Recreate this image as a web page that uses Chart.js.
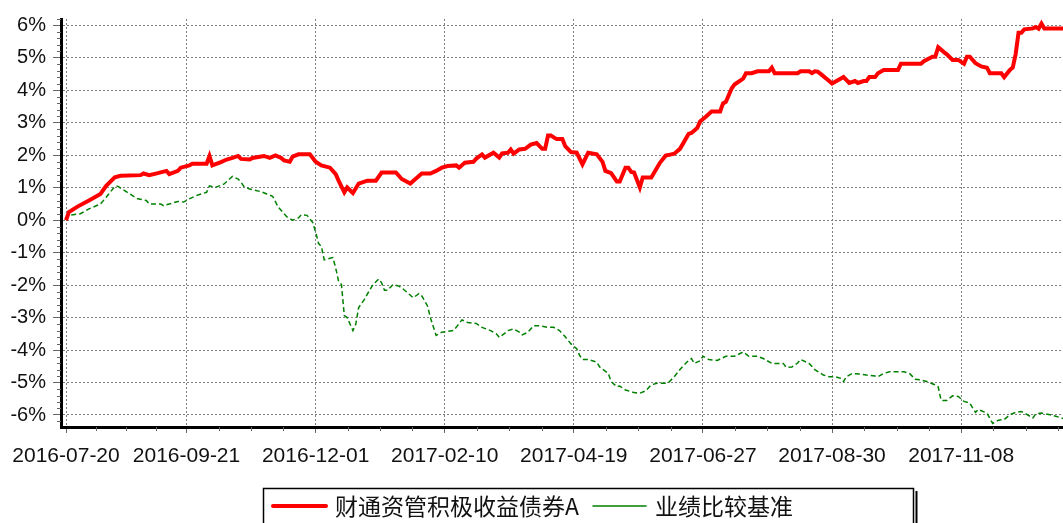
<!DOCTYPE html>
<html>
<head>
<meta charset="utf-8">
<script src="https://cdn.jsdelivr.net/npm/chart.js@4/dist/chart.umd.min.js"></script>
<style>
  html, body { margin: 0; padding: 0; background: #fff; }
  #wrap { width: 1063px; height: 523px; position: relative; }
</style>
</head>
<body>
<div id="wrap"><canvas id="chart"></canvas></div>
<script>
// trading-day index of each date label on the x axis
const tickDays = [0, 42, 87, 132, 177, 222, 267, 312];
const tickLabels = ['2016-07-20', '2016-09-21', '2016-12-01', '2017-02-10', '2017-04-19', '2017-06-27', '2017-08-30', '2017-11-08'];
const seriesNames = ['财通资管积极收益债券A', '业绩比较基准'];

// fund cumulative return (%)
const fundDays = [0, 1, 4, 8, 12, 14, 17, 19, 26, 27, 29, 32, 35, 36, 39, 40, 43, 44, 49, 50, 51, 54, 56, 58, 60, 61, 64, 65, 69, 71, 73, 75, 76, 78, 79, 81, 85, 87, 89, 92, 94, 95, 97, 98, 100, 102, 105, 108, 110, 115, 117, 120, 124, 127, 129, 131, 133, 136, 137, 139, 142, 143, 145, 146, 149, 151, 152, 154, 155, 156, 158, 160, 162, 164, 166, 167, 168, 169, 171, 173, 174, 176, 178, 180, 182, 185, 187, 188, 190, 192, 193, 195, 196, 197, 198, 200, 201, 204, 206, 207, 209, 211, 212, 214, 217, 218, 220, 221, 223, 225, 228, 229, 230, 232, 233, 236, 237, 239, 241, 245, 246, 247, 255, 256, 259, 260, 261, 262, 263, 266, 267, 271, 273, 275, 276, 278, 279, 280, 282, 283, 285, 290, 291, 298, 299, 302, 303, 304, 306, 307, 309, 311, 313, 314, 315, 317, 319, 321, 322, 326, 327, 329, 330, 331, 332, 333, 334, 337, 338, 339, 340, 341, 348];
const fundVals = [0, 0.25, 0.42, 0.61, 0.81, 1.06, 1.32, 1.37, 1.39, 1.44, 1.39, 1.45, 1.52, 1.42, 1.52, 1.62, 1.69, 1.74, 1.74, 1.98, 1.69, 1.79, 1.87, 1.92, 1.98, 1.89, 1.87, 1.92, 1.98, 1.92, 2.00, 1.92, 1.84, 1.80, 1.96, 2.03, 2.03, 1.80, 1.69, 1.62, 1.42, 1.22, 0.86, 1.01, 0.84, 1.13, 1.22, 1.22, 1.47, 1.47, 1.27, 1.13, 1.44, 1.44, 1.52, 1.62, 1.67, 1.69, 1.62, 1.77, 1.80, 1.90, 2.03, 1.93, 2.08, 1.93, 2.06, 2.08, 2.18, 2.05, 2.18, 2.20, 2.33, 2.38, 2.20, 2.20, 2.61, 2.61, 2.50, 2.50, 2.28, 2.10, 2.08, 1.72, 2.08, 2.03, 1.80, 1.52, 1.45, 1.19, 1.19, 1.62, 1.62, 1.49, 1.47, 1.01, 1.32, 1.32, 1.62, 1.77, 1.99, 2.03, 2.05, 2.20, 2.66, 2.69, 2.84, 3.04, 3.19, 3.35, 3.35, 3.60, 3.65, 4.06, 4.18, 4.36, 4.53, 4.53, 4.59, 4.59, 4.70, 4.53, 4.53, 4.59, 4.59, 4.53, 4.59, 4.58, 4.51, 4.29, 4.21, 4.41, 4.23, 4.29, 4.23, 4.29, 4.29, 4.41, 4.41, 4.53, 4.63, 4.63, 4.82, 4.82, 4.90, 5.04, 5.04, 5.33, 5.18, 5.11, 4.94, 4.94, 4.82, 5.04, 5.04, 4.84, 4.74, 4.70, 4.53, 4.53, 4.41, 4.63, 4.71, 5.12, 5.78, 5.78, 5.88, 5.91, 5.95, 5.90, 6.06, 5.91, 5.91];

// benchmark cumulative return (%)
const benchDays = [0, 1, 5, 8, 12, 14, 17, 18, 21, 25, 28, 29, 33, 34, 36, 39, 41, 43, 46, 49, 50, 52, 55, 57, 58, 60, 61, 62, 64, 68, 70, 72, 74, 77, 79, 81, 82, 84, 86, 87, 88, 89, 90, 92, 93, 94, 95, 96, 97, 98, 100, 101, 102, 104, 105, 107, 109, 110, 111, 112, 114, 116, 117, 119, 121, 123, 124, 126, 127, 129, 131, 135, 136, 138, 140, 143, 145, 148, 150, 151, 153, 154, 156, 158, 159, 161, 163, 165, 168, 170, 172, 174, 176, 178, 179, 180, 182, 185, 186, 189, 190, 192, 193, 195, 198, 200, 202, 204, 206, 209, 210, 212, 214, 215, 217, 218, 219, 221, 222, 224, 227, 230, 233, 236, 238, 241, 243, 246, 250, 251, 253, 255, 256, 259, 261, 264, 266, 268, 270, 271, 272, 274, 277, 279, 282, 283, 285, 287, 292, 294, 296, 298, 300, 303, 304, 305, 307, 309, 311, 313, 315, 316, 317, 318, 321, 323, 325, 327, 329, 331, 333, 335, 337, 338, 340, 343, 345, 348];
const benchVals = [0, 0.15, 0.20, 0.35, 0.50, 0.71, 1.04, 1.05, 0.88, 0.66, 0.61, 0.50, 0.50, 0.45, 0.50, 0.58, 0.56, 0.66, 0.78, 0.86, 1.06, 1.01, 1.11, 1.27, 1.35, 1.27, 1.17, 1.04, 0.96, 0.88, 0.81, 0.74, 0.40, 0.10, 0.00, 0.07, 0.17, 0.15, -0.07, -0.36, -0.71, -0.81, -1.22, -1.17, -1.15, -1.47, -1.88, -1.98, -2.94, -3.00, -3.40, -3.20, -2.69, -2.44, -2.28, -1.98, -1.81, -1.93, -2.16, -2.16, -1.98, -2.03, -2.08, -2.23, -2.39, -2.26, -2.33, -2.64, -3.00, -3.55, -3.45, -3.40, -3.30, -3.07, -3.15, -3.18, -3.30, -3.40, -3.50, -3.61, -3.48, -3.40, -3.35, -3.45, -3.53, -3.45, -3.25, -3.25, -3.30, -3.30, -3.40, -3.59, -3.81, -3.96, -4.16, -4.29, -4.29, -4.37, -4.52, -4.72, -4.97, -5.13, -5.11, -5.23, -5.31, -5.33, -5.26, -5.07, -5.02, -5.02, -5.00, -4.82, -4.60, -4.50, -4.32, -4.26, -4.41, -4.33, -4.19, -4.29, -4.32, -4.19, -4.19, -4.06, -4.19, -4.19, -4.26, -4.41, -4.41, -4.53, -4.52, -4.40, -4.29, -4.41, -4.60, -4.77, -4.82, -4.82, -4.87, -4.97, -4.82, -4.72, -4.74, -4.77, -4.80, -4.82, -4.72, -4.67, -4.67, -4.72, -4.90, -4.92, -4.97, -5.07, -5.13, -5.55, -5.55, -5.41, -5.43, -5.58, -5.63, -5.78, -5.92, -5.83, -5.94, -6.26, -6.16, -6.14, -5.99, -5.92, -5.89, -5.99, -6.09, -5.96, -5.94, -5.99, -6.04, -6.12];

const yTicks = [-6, -5, -4, -3, -2, -1, 0, 1, 2, 3, 4, 5, 6];

function toPoints(days, vals) {
    return days.map((d, i) => ({ x: d, y: vals[i] }));
}

// small unlabeled ticks between the major ones
const minorTicks = {
    id: 'minorTicks',
    afterDraw(chart) {
        const { ctx, chartArea: a } = chart;
        const x = chart.scales.x, y = chart.scales.y;
        ctx.save();
        ctx.strokeStyle = '#666';
        ctx.lineWidth = 1;
        ctx.beginPath();
        for (let k = 0; k < tickDays.length; k++) {
            const from = tickDays[k];
            const to = k + 1 < tickDays.length ? tickDays[k + 1] : from + 45;
            const step = (to - from) / 4;
            for (let j = 1; j < 4; j++) {
                const v = from + j * step;
                if (v > x.max) break;
                const px = Math.round(x.getPixelForValue(v)) + 0.5;
                ctx.moveTo(px, a.bottom);
                ctx.lineTo(px, a.bottom + 4);
            }
        }
        for (let n = Math.ceil(y.min * 5); n <= Math.floor(y.max * 5); n++) {
            if (n % 5 === 0) continue;
            const py = Math.round(y.getPixelForValue(n / 5)) + 0.5;
            ctx.moveTo(a.left - 4, py);
            ctx.lineTo(a.left, py);
        }
        ctx.stroke();
        ctx.restore();
    }
};

// framed legend under the chart
const boxLegend = {
    id: 'boxLegend',
    afterDraw(chart) {
        const ctx = chart.ctx;
        const top = 488, left = 263, right = 913, midY = 506;
        ctx.save();
        ctx.strokeStyle = '#000';
        ctx.lineWidth = 1.5;
        ctx.strokeRect(left + 0.5, top + 0.5, right - left, 50);
        ctx.lineWidth = 2;
        ctx.beginPath();
        ctx.moveTo(right + 3.5, top + 3);
        ctx.lineTo(right + 3.5, 523);
        ctx.stroke();

        ctx.font = '23px "Noto Sans CJK SC", sans-serif';
        ctx.textBaseline = 'middle';
        ctx.fillStyle = '#111';
        let cx = left + 10;
        chart.data.datasets.forEach(ds => {
            ctx.strokeStyle = ds.borderColor;
            ctx.lineWidth = ds.borderWidth;
            ctx.lineCap = 'round';
            ctx.beginPath();
            ctx.moveTo(cx, midY);
            ctx.lineTo(cx + 53, midY);
            ctx.stroke();
            cx += 62;
            ctx.fillText(ds.label, cx, midY);
            cx += ctx.measureText(ds.label).width + 14;
        });
        ctx.restore();
    }
};

new Chart(document.getElementById('chart'), {
    type: 'line',
    data: {
        datasets: [
            {
                label: seriesNames[0],
                data: toPoints(fundDays, fundVals),
                borderColor: '#ff0000',
                borderWidth: 4,
                pointRadius: 0,
                tension: 0
            },
            {
                label: seriesNames[1],
                data: toPoints(benchDays, benchVals),
                borderColor: '#008000',
                borderWidth: 1.5,
                borderDash: [5, 3],
                pointRadius: 0,
                tension: 0
            }
        ]
    },
    options: {
        responsive: true,
        maintainAspectRatio: false,
        animation: false,
        layout: { padding: { top: 14, right: 0, bottom: 0, left: 0 } },
        plugins: {
            legend: { display: false },
            tooltip: { enabled: false }
        },
        scales: {
            x: {
                type: 'linear',
                min: -1.75,
                max: 347.5,
                afterFit(scale) { scale.height = 96; },
                afterBuildTicks(scale) { scale.ticks = tickDays.map(v => ({ value: v })); },
                ticks: {
                    autoSkip: false,
                    maxRotation: 0,
                    padding: 11,
                    color: '#111',
                    font: { family: '"Liberation Sans", Arial, sans-serif', size: 21 },
                    callback: v => tickLabels[tickDays.indexOf(v)]
                },
                grid: { color: '#808080', lineWidth: 1, tickColor: '#666', tickLength: 6 },
                border: { color: '#000', width: 3, dash: [2, 2] }
            },
            y: {
                min: -6.37,
                max: 6.2,
                afterFit(scale) { scale.width = 61; },
                afterBuildTicks(scale) { scale.ticks = yTicks.map(v => ({ value: v })); },
                ticks: {
                    padding: 7,
                    color: '#111',
                    font: { family: '"Liberation Sans", Arial, sans-serif', size: 20 },
                    callback: v => v + '%'
                },
                grid: { color: '#808080', lineWidth: 1, tickColor: '#666', tickLength: 8 },
                border: { color: '#000', width: 3, dash: [2, 2] }
            }
        }
    },
    plugins: [minorTicks, boxLegend]
});
</script>
</body>
</html>
